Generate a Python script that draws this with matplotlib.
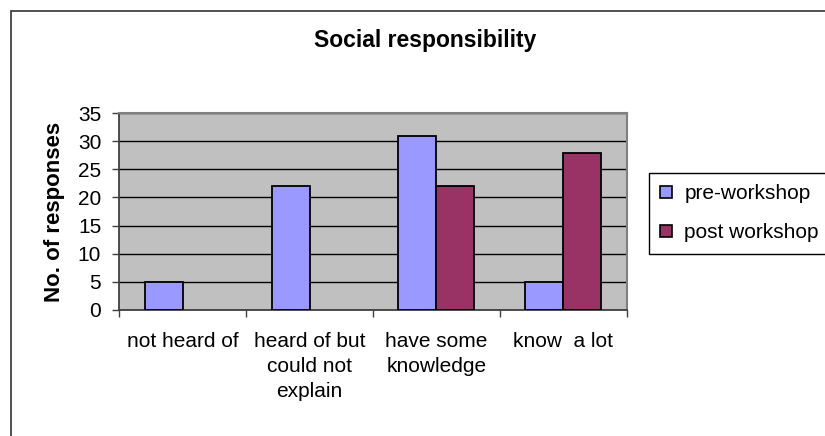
import matplotlib
matplotlib.use("Agg")
import matplotlib.pyplot as plt
import numpy as np
from matplotlib.patches import Patch, Rectangle

categories = ["not heard of", "heard of but\ncould not\nexplain", "have some\nknowledge", "know  a lot"]
series_names = ["pre-workshop", "post workshop"]
pre_workshop = [5, 22, 31, 5]
post_workshop = [0, 0, 22, 28]
yticks = [0, 5, 10, 15, 20, 25, 30, 35]

colors = ["#9999FF", "#993366"]

plt.rcParams["font.family"] = ["Liberation Sans", "DejaVu Sans"]

W, H = 825, 436
fig = plt.figure(figsize=(W / 100, H / 100), dpi=100)
fig.patch.set_facecolor("white")

ax = fig.add_axes([119.3 / W, 1 - 309.7 / H, (626.7 - 119.3) / W, (309.7 - 113.3) / H])
ax.set_facecolor("#C0C0C0")

x = np.arange(len(categories))
bw = 0.3
b1 = ax.bar(x - bw / 2, pre_workshop, bw, color=colors[0], edgecolor="black", linewidth=1.3, zorder=3)
b2 = ax.bar(x + bw / 2, post_workshop, bw, color=colors[1], edgecolor="black", linewidth=1.3, zorder=3)
for p in list(b1) + list(b2):
    if p.get_height() == 0:
        p.set_linewidth(0)

ax.set_xlim(-0.5, len(categories) - 0.5)
ax.set_ylim(0, 35)
ax.set_yticks(yticks)
ax.set_yticklabels([str(v) for v in yticks], fontsize=15)
ax.yaxis.grid(True, color="black", linewidth=1.0, zorder=1)
ax.set_axisbelow(True)

ax.set_xticks(x)
ax.set_xticklabels(categories, fontsize=15, linespacing=1.4, va="top")
ax.tick_params(axis="x", which="major", length=0, pad=16)
ax.set_xticks(np.arange(-0.5, len(categories)), minor=True)
ax.tick_params(axis="x", which="minor", length=5, width=1, color="#404040", direction="out")
ax.tick_params(axis="y", length=5, width=1, color="#404040", direction="out", pad=8)

for side in ["top", "right"]:
    ax.spines[side].set_color("#808080")
    ax.spines[side].set_linewidth(1.5)
for side in ["left", "bottom"]:
    ax.spines[side].set_color("#404040")
    ax.spines[side].set_linewidth(1.3)

ax.set_ylabel("No. of responses", fontsize=16, fontweight="bold", labelpad=9)

fig.text(425 / W, 1 - 40 / H, "Social responsibility", ha="center", va="center",
         fontsize=16.5, fontweight="bold")

handles = [Patch(facecolor=c, edgecolor="black", linewidth=1.2) for c in colors]
leg = fig.legend(handles, series_names, loc="upper left",
                 bbox_to_anchor=(649 / W, 1 - 173 / H), bbox_transform=fig.transFigure,
                 borderaxespad=0, fancybox=False, edgecolor="black", fontsize=15,
                 handlelength=0.55, handleheight=0.55, handletextpad=0.6,
                 labelspacing=0.95, borderpad=0.55, framealpha=1)
leg.get_frame().set_linewidth(1.0)

fig.add_artist(Rectangle((10.7 / W, -0.1), 1.2, 1.1 - 10.7 / H, transform=fig.transFigure,
                         fill=False, edgecolor="#333333", linewidth=1.2, clip_on=False))

fig.savefig("out.png", dpi=100)
